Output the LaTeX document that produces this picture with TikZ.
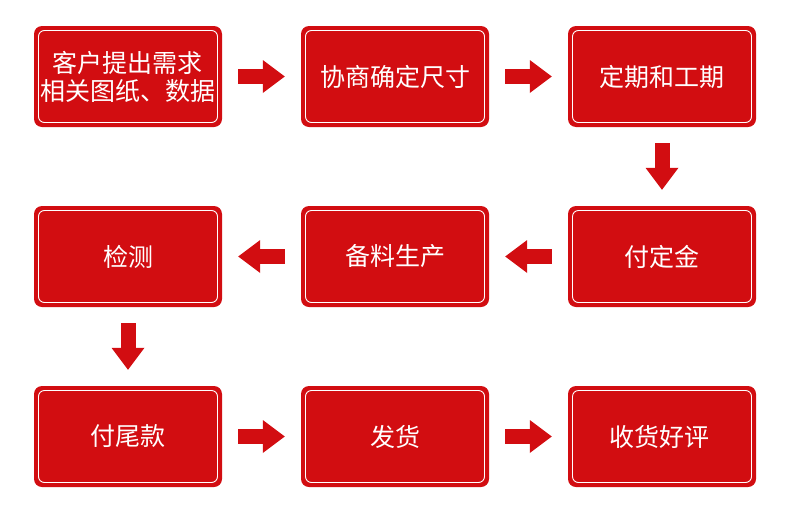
\documentclass[tikz,border=0pt]{standalone}
\usepackage{fontspec}
\newfontfamily\cjk{Noto Sans CJK SC}
\usetikzlibrary{arrows.meta}
\definecolor{boxred}{RGB}{210,13,17}

\begin{document}
\begin{tikzpicture}[x=1pt,y=-1pt,
    flowbox/.style={rounded corners=8pt,fill=boxred,text=white,
      minimum width=188pt,minimum height=101pt,align=center,
      font=\cjk\fontsize{25}{28}\selectfont,
      path picture={\draw[white,line width=0.9pt,rounded corners=6pt]
        ([shift={(4.5pt,4.5pt)}]path picture bounding box.south west) rectangle
        ([shift={(-4.5pt,-4.5pt)}]path picture bounding box.north east);}},
    flowarrow/.style={boxred,line width=15pt,shorten <=16pt,shorten >=16pt,
      -{Triangle[length=22pt,width=33pt,line width=0pt]}}]
  \useasboundingbox (0,0) rectangle (790,517);
  \foreach \n/\x/\y/\t in
  { kehu/128/76.5/{客户提出需求\\相关图纸、数据},
    xieshang/395/76.5/{协商确定尺寸},
    gongqi/662/76.5/{定期和工期},
    dingjin/662/256.5/{付定金},
    beiliao/395/256.5/{备料生产},
    jiance/128/256.5/{检测},
    weikuan/128/436.5/{付尾款},
    fahuo/395/436.5/{发货},
    shouhuo/662/436.5/{收货好评}
  }
  \node[flowbox] (\n) at (\x,\y) {\t};
  % order of the steps
  \foreach \a/\b in {kehu/xieshang,xieshang/gongqi,gongqi/dingjin,
    dingjin/beiliao,beiliao/jiance,jiance/weikuan,weikuan/fahuo,fahuo/shouhuo}
  \draw[flowarrow] (\a) -- (\b);
\end{tikzpicture}
\end{document}
